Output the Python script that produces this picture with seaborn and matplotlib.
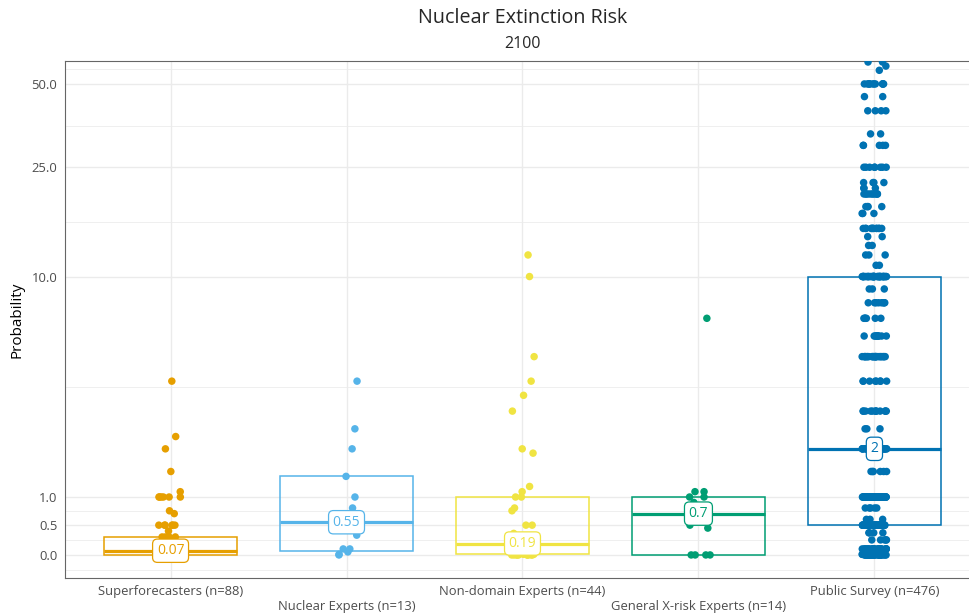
import numpy as np
import pandas as pd
import matplotlib
matplotlib.use("Agg")
import matplotlib.pyplot as plt
import seaborn as sns

# ---------------- data ----------------
groups = ["Superforecasters (n=88)", "Nuclear Experts (n=13)", "Non-domain Experts (n=44)",
          "General X-risk Experts (n=14)", "Public Survey (n=476)"]
colors = ["#E69F00", "#56B4E9", "#F0E442", "#009E73", "#0072B2"]

sf_values = [4, 2.3, 2, 1.5, 1.1, 1.0, 0.75, 0.7, 0.5, 0.4, 0.3, 0.25, 0.2, 0.15, 0.1, 0.07,
             0.05, 0.02, 0.01, 0.001, 0.0]
sf_counts = [1, 1, 1, 1, 1, 6, 1, 1, 6, 1, 4, 1, 5, 3, 10, 4, 8, 5, 10, 3, 15]

ne_values = [4, 2.5, 2, 1.4, 1.0, 0.8, 0.55, 0.33, 0.1, 0.05, 0.01, 0.0]
ne_counts = [1, 1, 1, 1, 1, 1, 1, 1, 2, 1, 1, 1]

nd_values = [12, 10, 5, 4, 3.5, 3, 2, 1.9, 1.2, 1.1, 1.0, 0.8, 0.75, 0.5, 0.36, 0.3, 0.25,
             0.2, 0.19, 0.1, 0.05, 0.02, 0.01, 0.0]
nd_counts = [1, 1, 1, 1, 1, 1, 1, 1, 1, 1, 2, 1, 1, 2, 1, 1, 1, 2, 2, 2, 2, 3, 4, 10]

gx_values = [7, 1.1, 1.0, 0.9, 0.7, 0.5, 0.45, 0.0]
gx_counts = [1, 2, 2, 1, 2, 1, 1, 4]

ps_values = [60, 58, 56, 50, 45, 40, 33, 30, 25, 22, 21, 20, 18, 17, 15, 14, 13, 12, 11, 10,
             9, 8, 7, 6, 5, 4, 3, 2.5, 2, 1.5, 1.0, 0.8, 0.6, 0.5, 0.37, 0.25, 0.1, 0.05,
             0.01, 0.0]
ps_counts = [2, 1, 1, 12, 2, 4, 2, 5, 8, 4, 3, 10, 4, 3, 12, 2, 2, 3, 2, 38,
             3, 8, 6, 10, 25, 8, 12, 3, 50, 6, 68, 5, 3, 45, 4, 5, 25, 10, 25, 35]

box_q1 = [0.0, 0.07, 0.02, 0.0, 0.5]
box_med = [0.07, 0.55, 0.19, 0.7, 2.0]
box_q3 = [0.3, 1.4, 1.0, 1.0, 10.0]
median_labels = ["0.07", "0.55", "0.19", "0.7", "2"]

y_ticks = [0, 0.5, 1, 10, 25, 50]
y_ticklabels = ["0.0", "0.5", "1.0", "10.0", "25.0", "50.0"]

# ---------------- build frame ----------------
all_vals = [(sf_values, sf_counts), (ne_values, ne_counts), (nd_values, nd_counts),
            (gx_values, gx_counts), (ps_values, ps_counts)]
rows = []
for g, (vals, cnts) in zip(groups, all_vals):
    for v, c in zip(vals, cnts):
        rows += [(g, v)] * c
df = pd.DataFrame(rows, columns=["group", "value"])

# ---------------- style ----------------
sns.set_theme(style="white")
plt.rcParams["font.family"] = ["Open Sans", "DejaVu Sans"]

fig, ax = plt.subplots(figsize=(9.7, 6.15), dpi=100)
L, R, T, B = 0.067, 1.0103, 0.9008, 0.0602
fig.subplots_adjust(left=L, right=R, top=T, bottom=B)

fwd = lambda x: np.arcsinh(np.asarray(x, dtype=float) / 2.0)
inv = lambda y: 2.0 * np.sinh(np.asarray(y, dtype=float))
ax.set_yscale("function", functions=(fwd, inv))

# boxes (no whiskers)
for i, c in enumerate(colors):
    stats = [dict(med=box_med[i], q1=box_q1[i], q3=box_q3[i],
                  whislo=box_q1[i], whishi=box_q3[i], fliers=[])]
    ax.bxp(stats, positions=[i], widths=0.76, showcaps=False, showfliers=False,
           patch_artist=True,
           boxprops=dict(facecolor="none", edgecolor=c, linewidth=1.1),
           medianprops=dict(color=c, linewidth=2.3, solid_capstyle="butt"),
           whiskerprops=dict(linewidth=0), manage_ticks=False, zorder=2)

np.random.seed(3)
sns.stripplot(data=df, x="group", y="value", hue="group", order=groups, hue_order=groups,
              palette=colors, jitter=0.07, size=5.4, linewidth=0, legend=False,
              native_scale=False, ax=ax, zorder=3)

for i, c in enumerate(colors):
    ax.text(i, box_med[i], median_labels[i], ha="center", va="center", color=c,
            fontsize=10, zorder=5,
            bbox=dict(boxstyle="round,pad=0.3,rounding_size=0.35", fc="white", ec=c, lw=0.9))

# axes limits and ticks
ax.set_xlim(-0.6, 4.6)
ax.set_ylim(-0.385, 60.5)
ax.set_yticks(y_ticks)
ax.set_yticklabels(y_ticklabels)
tb = fwd(y_ticks)
bd = tb[1] - tb[0]
ext = np.concatenate([[tb[0] - bd], tb, [tb[-1] + bd]])
minor_t = (ext[:-1] + ext[1:]) / 2.0
ax.set_yticks(inv(minor_t), minor=True)

ax.set_xticks(range(len(groups)))
ax.set_xticklabels([g if i % 2 == 0 else "\n" + g for i, g in enumerate(groups)])

ax.grid(True, which="major", color="#EBEBEB", linewidth=1.0, zorder=0)
ax.grid(True, which="minor", axis="y", color="#EBEBEB", linewidth=0.55, zorder=0)
ax.set_axisbelow(True)
ax.tick_params(axis="both", which="major", length=3, width=0.8, color="#333333",
               labelsize=9.4, labelcolor="#4D4D4D", pad=2.5)
ax.tick_params(axis="y", which="minor", length=0)
ax.tick_params(axis="x", which="major", pad=2)
for lab in ax.get_xticklabels():
    lab.set_linespacing(1.2)
for s in ax.spines.values():
    s.set_color("#666666")
    s.set_linewidth(0.8)

ax.set_xlabel("")
ax.set_ylabel("Probability", fontsize=11, color="black", labelpad=5)

cx = (L + R) / 2
fig.text(cx, 0.971, "Nuclear Extinction Risk", ha="center", va="center", fontsize=14.2)
fig.text(cx, 0.929, "2100", ha="center", va="center", fontsize=11.5)

fig.savefig("out.png", dpi=100)
